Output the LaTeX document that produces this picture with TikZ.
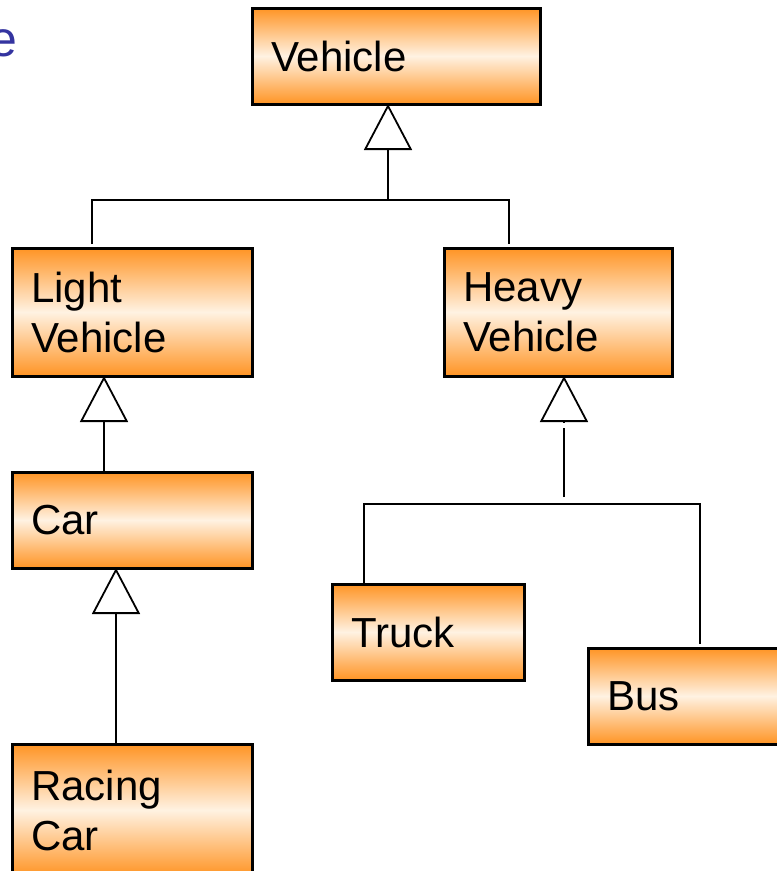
\documentclass[tikz,border=0pt]{standalone}
\usepackage{fontspec}
\setmainfont{Liberation Sans}
\usetikzlibrary{arrows.meta}
\definecolor{boxorange}{RGB}{255,148,36}
\definecolor{boxcream}{RGB}{255,242,226}
\definecolor{titleblue}{RGB}{52,52,160}
\begin{document}
\begin{tikzpicture}[x=1pt,y=-1pt,
  classbox/.style={draw=black, line width=3pt, anchor=north west,
    top color=boxorange, bottom color=boxorange, middle color=boxcream,
    inner xsep=19pt, inner ysep=0pt, outer sep=0pt, align=left,
    font=\fontsize{42}{50}\selectfont},
  link/.style={draw=black, line width=1.8pt},
  gen/.style={link, -{Triangle[open, length=46pt, width=48pt]}},
]
\path[use as bounding box, clip] (0,0) rectangle (777,871);

% title fragment
\node[anchor=base east, inner sep=0pt, text=titleblue,
      font=\fontsize{50}{60}\selectfont] (title) at (18,56) {e};

% classes
\node[classbox, minimum width=288pt, minimum height=96pt, text width=250pt] (vehicle) at (252,8) {Vehicle};
\node[classbox, minimum width=240pt, minimum height=128pt, text width=202pt] (light) at (12,248) {Light\\Vehicle};
\node[classbox, minimum width=228pt, minimum height=128pt, text width=190pt] (heavy) at (444,248) {Heavy\\Vehicle};
\node[classbox, minimum width=240pt, minimum height=96pt, text width=202pt] (car) at (12,472) {Car};
\node[classbox, minimum width=240pt, minimum height=132pt, text width=202pt, anchor=west] (racing) at (12,810) {Racing\\Car};
\node[classbox, minimum width=192pt, minimum height=96pt, text width=154pt] (truck) at (332,584) {Truck};
\node[classbox, minimum width=230pt, minimum height=96pt, text width=192pt] (bus) at (588,648) {Bus};

% Vehicle generalisation
\coordinate (vj) at (388,200);
\draw[link, shorten <=4pt, shorten >=4pt]
  ([xshift=80pt]light.north west) |- (vj) -| ([xshift=65pt]heavy.north west);
\draw[gen] (vj) -- ([xshift=136pt]vehicle.south west);

% Light Vehicle -> Car -> Racing Car
\draw[gen] ([xshift=92pt]car.north west) -- ([xshift=92pt]light.south west);
\draw[gen] ([xshift=104pt]racing.north west) -- ([xshift=104pt]car.south west);

% Heavy Vehicle generalisation
\coordinate (hj) at (564,504);
\coordinate (happex) at ([xshift=120pt]heavy.south west);
\draw[link, shorten >=4pt]
  ([xshift=32pt]truck.north west) |- (hj) -| ([xshift=112pt]bus.north west);
\draw[gen] ([yshift=-46pt]happex) -- (happex);
\draw[link] ([yshift=7pt]hj) -- ([yshift=-52pt]happex);
\end{tikzpicture}
\end{document}
